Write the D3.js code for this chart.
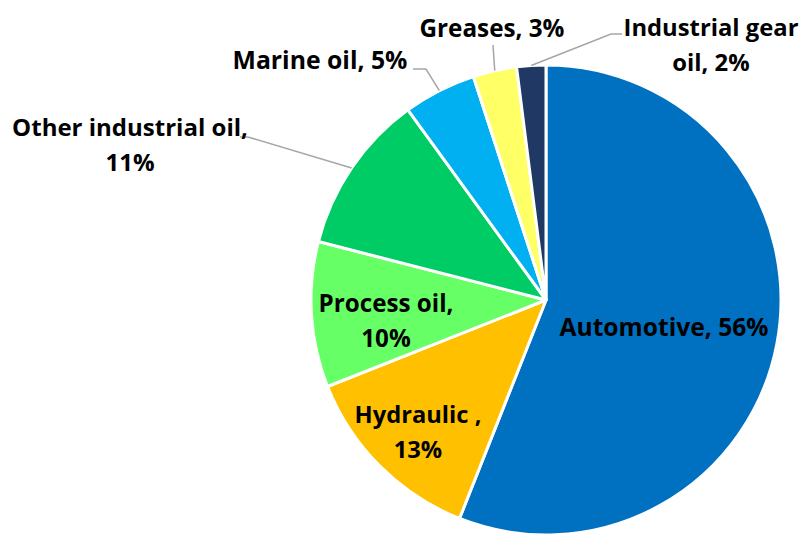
<!DOCTYPE html>
<html><head><meta charset="utf-8">
<script src="https://cdn.jsdelivr.net/npm/d3@7"></script>
<style>html,body{margin:0;padding:0;background:#fff;} svg{display:block;}</style>
</head><body>
<svg id="chart" width="801" height="536"></svg>
<script>
// Data
const categories = ["Automotive", "Hydraulic ", "Process oil", "Other industrial oil", "Marine oil", "Greases", "Industrial gear oil"];
const values = [56, 13, 10, 11, 5, 3, 2];
const colors = ["#0070C0", "#FFC000", "#66FF66", "#00CC66", "#00B0F0", "#FFFF66", "#203864"];

// Layout (label text lines + placement)
const labelLines = [
  ["Automotive, 56%"],
  ["Hydraulic ,", "13%"],
  ["Process oil,", "10%"],
  ["Other industrial oil,", "11%"],
  ["Marine oil, 5%"],
  ["Greases, 3%"],
  ["Industrial gear", "oil, 2%"]
];
const labelPos = [[664, 327], [418, 432], [386, 321], [130, 145], [320, 60], [492, 28], [711, 45]];
const labelWidth = [209, 127, 135, 236, 175, 145, 175];
const leaderElbow = [null, null, null, [[240, 137], [248, 137]], [[413, 69], [426, 69]], [[493, 45]], [[622, 34], [611, 34]]];

const svg = d3.select("#chart");
const cx = 546, cy = 300, R = 235;
const g = svg.append("g").attr("transform", `translate(${cx},${cy})`);

const pie = d3.pie().sort(null).value(d => d)(values);
const arc = d3.arc().innerRadius(0).outerRadius(R);

g.selectAll("path.slice").data(pie).join("path")
  .attr("class", "slice")
  .attr("d", arc)
  .attr("fill", (d, i) => colors[i])
  .attr("stroke", "#fff")
  .attr("stroke-width", 3)
  .attr("stroke-linejoin", "round");

// leader lines
pie.forEach((d, i) => {
  if (!leaderElbow[i]) return;
  const mid = (d.startAngle + d.endAngle) / 2;
  const edge = [cx + R * Math.sin(mid), cy - R * Math.cos(mid)];
  const pts = leaderElbow[i].concat([edge]);
  svg.append("path")
    .attr("d", d3.line()(pts))
    .attr("fill", "none")
    .attr("stroke", "#A6A6A6")
    .attr("stroke-width", 1.5);
});

// labels
const lh = 35;
labelLines.forEach((lines, i) => {
  const [x, y] = labelPos[i];
  const t = svg.append("text")
    .attr("x", x).attr("y", y)
    .attr("text-anchor", "middle")
    .attr("font-family", "'Open Sans', Lato, sans-serif")
    .attr("font-weight", 700)
    .attr("font-size", 23)
    .attr("fill", "#000");
  const y0 = y - (lines.length - 1) * lh / 2;
  lines.forEach((s, j) => {
    t.append("tspan").attr("x", x).attr("y", y0 + j * lh).attr("dy", "0.36em").text(s);
  });
  // fit longest line to the width measured on the reference
  const nodes = t.selectAll("tspan").nodes();
  const maxW = d3.max(nodes, n => n.getComputedTextLength());
  const scale = labelWidth[i] / maxW;
  t.attr("font-size", 23 * scale);
});
</script>
</body></html>
